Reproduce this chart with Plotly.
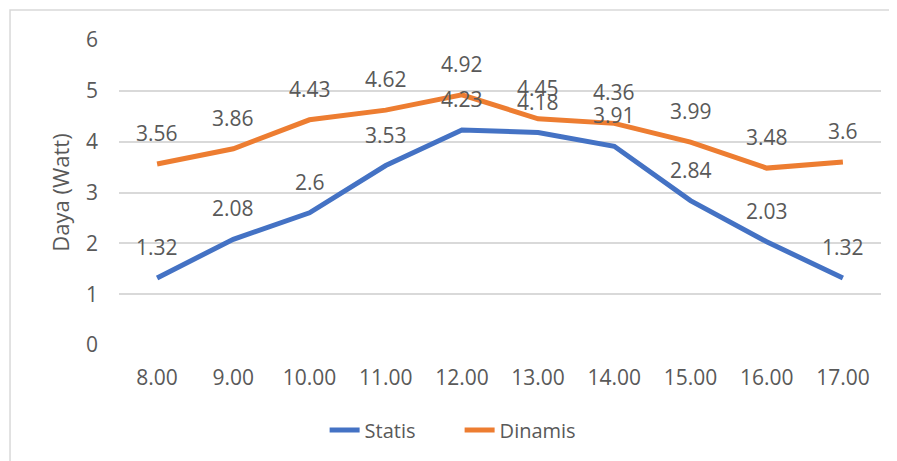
import plotly.graph_objects as go

categories = ["8.00", "9.00", "10.00", "11.00", "12.00", "13.00", "14.00", "15.00", "16.00", "17.00"]
statis = [1.32, 2.08, 2.6, 3.53, 4.23, 4.18, 3.91, 2.84, 2.03, 1.32]
dinamis = [3.56, 3.86, 4.43, 4.62, 4.92, 4.45, 4.36, 3.99, 3.48, 3.6]
y_ticks = [0, 1, 2, 3, 4, 5, 6]

FONT = "Open Sans"
GRAY = "#595959"
fig = go.Figure()
fig.add_trace(go.Scatter(x=categories, y=statis, mode="lines", name="Statis",
                         line=dict(color="#4472C4", width=5)))
fig.add_trace(go.Scatter(x=categories, y=dinamis, mode="lines", name="Dinamis",
                         line=dict(color="#ED7D31", width=5)))

annotations = []
for series in (statis, dinamis):
    for i, v in enumerate(series):
        annotations.append(dict(x=i, y=v, xref="x", yref="y", text=str(v), showarrow=False,
                                yshift=31, font=dict(family=FONT, size=21, color=GRAY)))

fig.update_layout(
    width=889, height=453,
    margin=dict(l=111, r=16, t=32, b=116),
    paper_bgcolor="white", plot_bgcolor="white",
    font=dict(family=FONT, size=20, color=GRAY),
    annotations=annotations,
    showlegend=True,
    legend=dict(orientation="h", x=0.447, xanchor="center", y=-0.279, yanchor="middle",
                font=dict(family=FONT, size=20, color=GRAY), entrywidth=90),
    xaxis=dict(type="category", range=[-0.5, 9.5], showgrid=False, zeroline=False,
               showline=False, ticks="", ticklabelstandoff=18,
               tickfont=dict(family=FONT, size=21, color=GRAY)),
    yaxis=dict(range=[0, 6], tickvals=y_ticks, showgrid=True, gridcolor="#D9D9D9", gridwidth=1.5,
               zeroline=False, showline=False, ticks="", ticklabelstandoff=20,
               tickfont=dict(family=FONT, size=21, color=GRAY),
               title=dict(text="Daya (Watt)", standoff=10,
                          font=dict(family=FONT, size=22, color=GRAY))),
    shapes=[dict(type="rect", xref="paper", yref="paper", x0=-0.143, x1=1.3, y0=-0.6, y1=1.098,
                 line=dict(color="#D9D9D9", width=1.5), fillcolor="rgba(0,0,0,0)", layer="below")],
)
fig.write_html("out.html")
